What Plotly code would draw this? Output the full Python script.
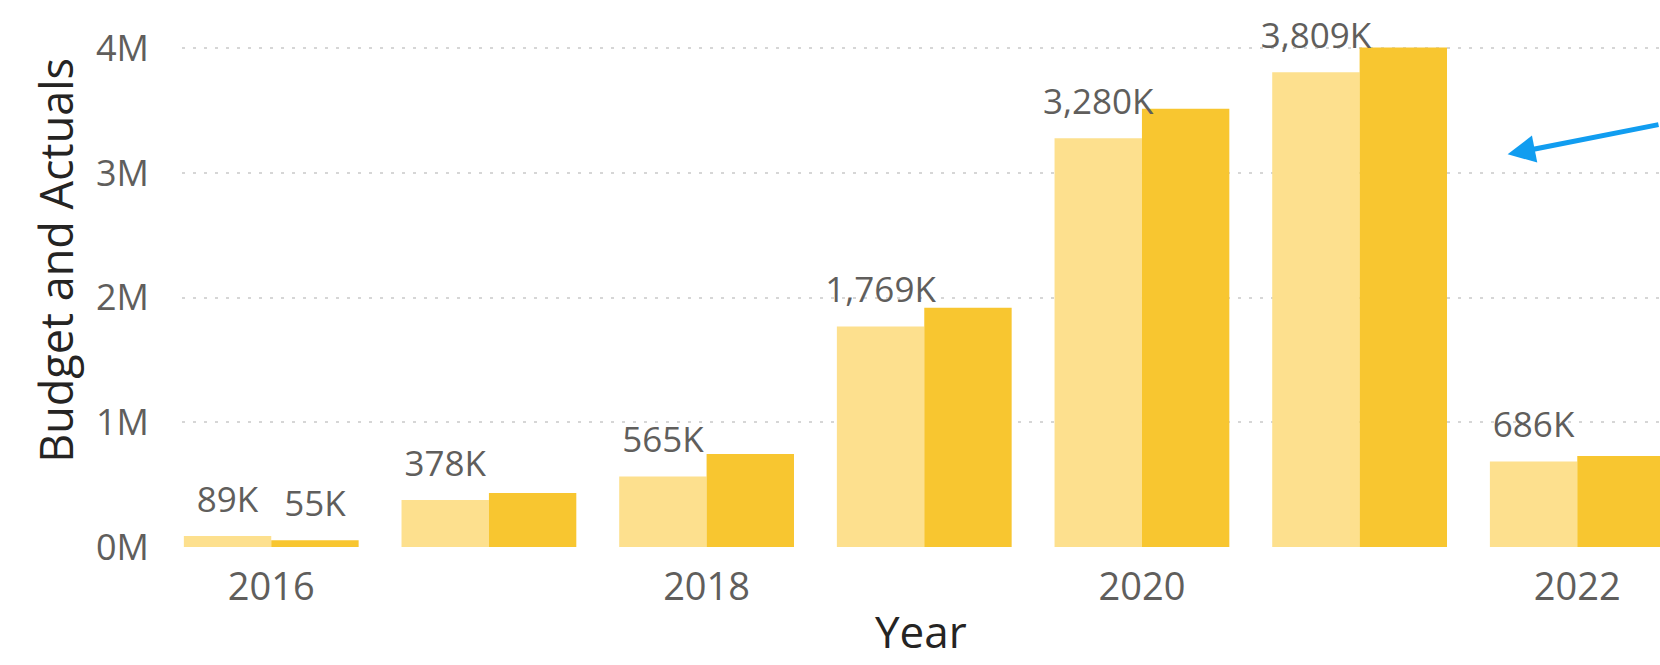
import plotly.graph_objects as go

years = [2016, 2017, 2018, 2019, 2020, 2021, 2022]
budget = [89000, 378000, 565000, 1769000, 3280000, 3809000, 686000]
actuals = [55000, 433000, 747000, 1919000, 3516000, 4008000, 730000]
show_actual_label = [True, False, False, False, False, False, False]
y_ticks = [0, 1000000, 2000000, 3000000, 4000000]
y_tick_labels = ["0M", "1M", "2M", "3M", "4M"]
x_ticks = [2016, 2018, 2020, 2022]

FONT = "Open Sans"
LABEL_GRAY = "#605E5C"
TITLE_DARK = "#252423"
BUDGET_COLOR = "#FDE08E"
ACTUAL_COLOR = "#F8C630"
GAP = 0.197

def k_label(v):
    return f"{v/1000:,.0f}K"

budget_text = [k_label(v) for v in budget]
actual_text = [k_label(v) if s else "" for v, s in zip(actuals, show_actual_label)]

fig = go.Figure()
fig.add_trace(go.Bar(
    x=years, y=budget, name="Budget", offsetgroup="b",
    marker=dict(color=BUDGET_COLOR, line=dict(width=0)),
))
fig.add_trace(go.Bar(
    x=years, y=actuals, name="Actuals", offsetgroup="a",
    marker=dict(color=ACTUAL_COLOR, line=dict(width=0)),
))
# data labels, grouped the same way as the bars
for vals, txt, grp in [(budget, budget_text, "b"), (actuals, actual_text, "a")]:
    fig.add_trace(go.Scatter(
        x=years, y=vals, mode="markers+text", offsetgroup=grp,
        marker=dict(size=23, color="rgba(0,0,0,0)"),
        text=txt, textposition="top center",
        textfont=dict(family=FONT, size=35, color=LABEL_GRAY),
        cliponaxis=False, hoverinfo="skip",
    ))

fig.update_layout(
    width=1660, height=665,
    margin=dict(l=182, r=0, t=11, b=118, autoexpand=False),
    paper_bgcolor="white", plot_bgcolor="white",
    barmode="group", bargap=GAP, bargroupgap=0,
    scattermode="group", scattergap=GAP,
    showlegend=False,
    font=dict(family=FONT, color=LABEL_GRAY),
    xaxis=dict(
        range=[2015.59, 2022.38],
        tickvals=x_ticks, ticktext=[str(t) for t in x_ticks],
        tickfont=dict(family=FONT, size=38, color=LABEL_GRAY),
        showgrid=False, zeroline=False, showline=False, ticks="",
        ticklabelstandoff=14,
        automargin=False,
    ),
    yaxis=dict(
        range=[0, 4300000],
        tickvals=y_ticks, ticktext=y_tick_labels,
        tickfont=dict(family=FONT, size=36, color=LABEL_GRAY),
        showgrid=True, gridcolor="#D6D6D6", griddash="3px,8px", gridwidth=2,
        zeroline=False, showline=False, ticks="",
        ticklabelstandoff=32,
        automargin=False,
    ),
)

# axis titles, placed as in the reference
fig.add_annotation(
    text="Budget and Actuals", textangle=-90,
    xref="paper", yref="paper", x=-0.0855, y=0.535,
    xanchor="center", yanchor="middle", showarrow=False,
    font=dict(family=FONT, size=45, color=TITLE_DARK),
)
fig.add_annotation(
    text="Year",
    xref="paper", yref="paper", x=0.5, y=-0.157,
    xanchor="center", yanchor="middle", showarrow=False, borderpad=0,
    font=dict(family=FONT, size=44, color=TITLE_DARK),
)

fig.add_annotation(
    x=2021.68, y=3150000, xref="x", yref="y",
    ax=165, ay=-30, axref="pixel", ayref="pixel",
    text="", showarrow=True, arrowhead=2, arrowsize=1.1, arrowwidth=5,
    arrowcolor="#119DF0",
)

fig.write_html("out.html", post_script="document.body.style.margin='0';",
               config={"displayModeBar": False})
